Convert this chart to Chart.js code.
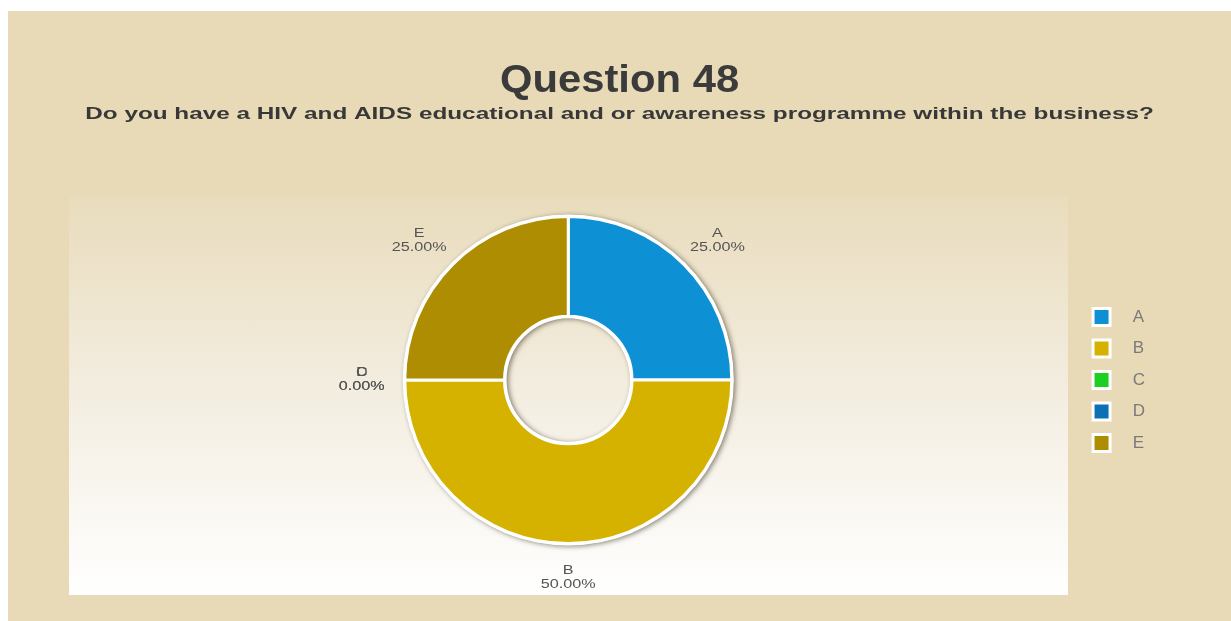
<!DOCTYPE html>
<html>
<head>
<meta charset="utf-8">
<title>Question 48</title>
<script src="https://cdn.jsdelivr.net/npm/chart.js@4.4.1/dist/chart.umd.min.js"></script>
<style>
body{margin:0;background:#fff;}
#wrap{position:absolute;left:8px;top:11px;width:1223px;height:610px;background:#e8dab6;}
#panel{position:absolute;left:61px;top:184px;width:999px;height:400px;background:linear-gradient(to bottom,#e9dcbc 0%,#f3ede0 48%,#ffffff 100%);}
#chart{position:absolute;left:0;top:0;}
</style>
</head>
<body>
<div id="wrap">
<div id="panel"></div>
<canvas id="chart" width="1223" height="610"></canvas>
</div>
<script>
let titleText="Question 48";
let questionText="Do you have a HIV and AIDS educational and or awareness programme within the business?";
let categories=["A","B","C","D","E"];
let values=[25,50,0,0,25];
let colors=["#0e90d4","#d5b100","#1ccf22","#0d70b4","#ae8d03"];

let fontFamily="'Liberation Sans', Arial, sans-serif";

// draws text squeezed or widened horizontally
function wideText(ctx,text,x,y,sx){
ctx.save();
ctx.translate(x,y);
ctx.scale(sx,1);
ctx.fillText(text,0,0);
ctx.restore();
}

// white rim with a soft shadow under the ring
const ringShadow={
id:"ringShadow",
beforeDatasetsDraw(chart){
let arc=chart.getDatasetMeta(0).data[0];
if(!arc)return;
let p=arc.getProps(["x","y","innerRadius","outerRadius"],true);
let ctx=chart.ctx;
ctx.save();
ctx.shadowColor="rgba(70,60,40,0.6)";
ctx.shadowBlur=5;
ctx.shadowOffsetX=2;
ctx.shadowOffsetY=1;
ctx.fillStyle="#ffffff";
ctx.beginPath();
ctx.arc(p.x,p.y,p.outerRadius+2,0,Math.PI*2);
ctx.arc(p.x,p.y,p.innerRadius-2,0,Math.PI*2,true);
ctx.fill();
ctx.restore();
}
};

// name and percentage outside each slice
const sliceLabels={
id:"sliceLabels",
afterDatasetsDraw(chart){
let ctx=chart.ctx;
let meta=chart.getDatasetMeta(0);
let total=values.reduce((a,b)=>a+b,0);
ctx.save();
ctx.font="12px "+fontFamily;
ctx.fillStyle="#555555";
ctx.textAlign="center";
ctx.textBaseline="middle";
meta.data.forEach((arc,i)=>{
let p=arc.getProps(["x","y","startAngle","endAngle","outerRadius"],true);
let mid=(p.startAngle+p.endAngle)/2;
let pct=(values[i]/total*100).toFixed(2)+"%";
let w=ctx.measureText(pct).width*1.35;
let r=p.outerRadius+20;
let cx=p.x+Math.cos(mid)*(r+w/2);
let cy=p.y+Math.sin(mid)*(r+14);
wideText(ctx,categories[i],cx,cy-7,1.35);
wideText(ctx,pct,cx,cy+7,1.35);
});
ctx.restore();
}
};

// heading and question above the chart
const header={
id:"header",
afterDraw(chart){
let ctx=chart.ctx;
let cx=chart.width/2;
ctx.save();
ctx.textAlign="center";
ctx.textBaseline="alphabetic";
ctx.fillStyle="#3b3b3b";
ctx.font="bold 38px "+fontFamily;
wideText(ctx,titleText,cx,81,1.1);
ctx.fillStyle="#383838";
ctx.font="bold 17px "+fontFamily;
wideText(ctx,questionText,cx,108,1.43);
ctx.restore();
}
};

new Chart(document.getElementById("chart"),{
type:"doughnut",
data:{
labels:categories,
datasets:[{
data:values,
backgroundColor:colors,
borderColor:"#ffffff",
borderWidth:3,
hoverOffset:0
}]
},
options:{
responsive:false,
animation:false,
cutout:"39%",
layout:{padding:{top:204,bottom:76,left:50,right:76}},
plugins:{
tooltip:{enabled:false},
legend:{
position:"right",
labels:{
boxWidth:17,
boxHeight:17,
padding:14.5,
color:"#7a7a7a",
font:{size:17,family:fontFamily},
generateLabels(chart){
let items=Chart.overrides.doughnut.plugins.legend.labels.generateLabels(chart);
items.forEach(it=>{it.text="   "+it.text;});
return items;
}
}
}
}
},
plugins:[ringShadow,sliceLabels,header]
});
</script>
</body>
</html>
